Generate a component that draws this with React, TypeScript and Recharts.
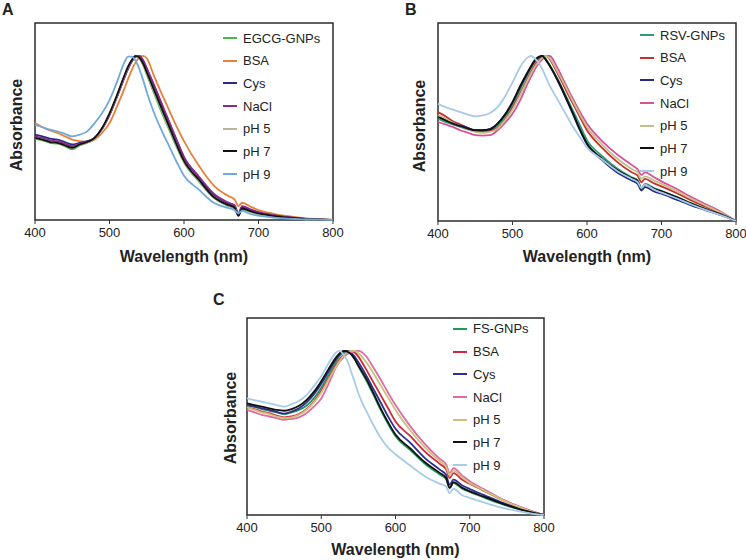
import React from 'react'
import { LineChart, Line, XAxis, YAxis, ReferenceArea, Legend } from 'recharts'

// shared wavelength grid (nm) and axis ticks
const WAVELENGTH = [400, 410, 420, 430, 440, 450, 460, 470, 480, 490, 500, 510, 520, 525, 530, 535, 540, 545, 550, 560, 570, 580, 590, 600, 620, 640, 660, 668, 673, 678, 690, 700, 720, 740, 760, 780, 800]
const X_TICKS = [400, 500, 600, 700, 800]

// Panel A - EGCG-GNPs
const A_LABELS = ['EGCG-GNPs', 'BSA', 'Cys', 'NaCl', 'pH 5', 'pH 7', 'pH 9']
const A_COLORS = ['#4cb848', '#e8803a', '#2b2a85', '#8b2a8e', '#b9b49a', '#111111', '#6fa8dc']
const A_EGCG = [0.495, 0.485, 0.47, 0.465, 0.45, 0.43, 0.455, 0.47, 0.495, 0.555, 0.645, 0.755, 0.875, 0.93, 0.975, 1.0, 0.985, 0.945, 0.885, 0.77, 0.655, 0.55, 0.445, 0.35, 0.235, 0.135, 0.085, 0.07, 0.03, 0.065, 0.048, 0.036, 0.022, 0.012, 0.006, 0.003, 0]
const A_BSA = [0.59, 0.565, 0.545, 0.53, 0.51, 0.49, 0.48, 0.475, 0.49, 0.53, 0.59, 0.69, 0.8, 0.86, 0.915, 0.96, 0.99, 1.0, 0.985, 0.875, 0.77, 0.67, 0.57, 0.48, 0.33, 0.21, 0.145, 0.125, 0.085, 0.105, 0.08, 0.06, 0.038, 0.023, 0.012, 0.005, 0]
const A_CYS = [0.52, 0.51, 0.495, 0.49, 0.475, 0.46, 0.47, 0.48, 0.5, 0.555, 0.64, 0.75, 0.87, 0.925, 0.97, 0.995, 1.0, 0.97, 0.92, 0.815, 0.705, 0.595, 0.485, 0.38, 0.26, 0.155, 0.1, 0.085, 0.035, 0.08, 0.06, 0.045, 0.028, 0.016, 0.008, 0.003, 0]
const A_NACL = [0.51, 0.5, 0.485, 0.48, 0.465, 0.45, 0.465, 0.478, 0.5, 0.555, 0.64, 0.75, 0.865, 0.92, 0.965, 0.995, 1.0, 0.975, 0.925, 0.82, 0.71, 0.6, 0.49, 0.385, 0.265, 0.16, 0.105, 0.09, 0.04, 0.085, 0.063, 0.048, 0.03, 0.017, 0.009, 0.004, 0]
const A_PH5 = [0.5, 0.49, 0.475, 0.468, 0.452, 0.437, 0.458, 0.472, 0.498, 0.557, 0.648, 0.758, 0.878, 0.932, 0.975, 1.0, 0.988, 0.95, 0.893, 0.78, 0.668, 0.56, 0.453, 0.355, 0.24, 0.138, 0.088, 0.073, 0.028, 0.068, 0.05, 0.038, 0.023, 0.013, 0.006, 0.003, 0]
const A_PH7 = [0.5, 0.49, 0.475, 0.47, 0.455, 0.44, 0.46, 0.475, 0.5, 0.56, 0.65, 0.76, 0.88, 0.935, 0.975, 1.0, 0.99, 0.955, 0.9, 0.79, 0.68, 0.57, 0.46, 0.36, 0.245, 0.14, 0.09, 0.075, 0.025, 0.07, 0.052, 0.04, 0.025, 0.014, 0.007, 0.003, 0]
const A_PH9 = [0.58, 0.565, 0.55, 0.54, 0.525, 0.51, 0.52, 0.54, 0.59, 0.65, 0.73, 0.84, 0.96, 0.995, 0.995, 0.97, 0.92, 0.855, 0.78, 0.65, 0.545, 0.45, 0.355, 0.27, 0.185, 0.105, 0.072, 0.06, 0.04, 0.055, 0.035, 0.026, 0.015, 0.008, 0.004, 0.002, 0]

// Panel B - RSV-GNPs
const B_LABELS = ['RSV-GNPs', 'BSA', 'Cys', 'NaCl', 'pH 5', 'pH 7', 'pH 9']
const B_COLORS = ['#2a9d74', '#c9302c', '#252a86', '#d9509a', '#c3bf8a', '#111111', '#a9c9ea']
const B_RSV = [0.62, 0.6, 0.585, 0.57, 0.555, 0.545, 0.545, 0.55, 0.58, 0.63, 0.7, 0.795, 0.885, 0.93, 0.965, 0.99, 1.0, 0.98, 0.945, 0.865, 0.775, 0.68, 0.585, 0.49, 0.395, 0.32, 0.265, 0.248, 0.2, 0.225, 0.2, 0.183, 0.148, 0.108, 0.072, 0.04, 0]
const B_BSA = [0.66, 0.635, 0.605, 0.585, 0.565, 0.545, 0.54, 0.545, 0.565, 0.615, 0.685, 0.77, 0.86, 0.905, 0.945, 0.975, 0.995, 1.0, 0.98, 0.9, 0.81, 0.72, 0.635, 0.55, 0.445, 0.36, 0.295, 0.275, 0.235, 0.255, 0.228, 0.21, 0.17, 0.125, 0.085, 0.045, 0]
const B_CYS = [0.635, 0.615, 0.595, 0.58, 0.565, 0.55, 0.55, 0.558, 0.59, 0.645, 0.72, 0.81, 0.895, 0.935, 0.97, 0.99, 1.0, 0.975, 0.94, 0.855, 0.76, 0.66, 0.555, 0.465, 0.37, 0.295, 0.245, 0.225, 0.185, 0.205, 0.18, 0.165, 0.13, 0.095, 0.065, 0.035, 0]
const B_NACL = [0.6, 0.585, 0.57, 0.55, 0.535, 0.52, 0.518, 0.52, 0.55, 0.595, 0.65, 0.73, 0.83, 0.875, 0.92, 0.955, 0.98, 1.0, 1.0, 0.93, 0.84, 0.75, 0.665, 0.59, 0.486, 0.405, 0.34, 0.313, 0.28, 0.295, 0.265, 0.24, 0.195, 0.145, 0.1, 0.055, 0]
const B_PH5 = [0.64, 0.62, 0.595, 0.575, 0.555, 0.54, 0.535, 0.54, 0.56, 0.61, 0.675, 0.76, 0.85, 0.895, 0.935, 0.965, 0.99, 1.0, 0.985, 0.91, 0.825, 0.735, 0.65, 0.57, 0.465, 0.38, 0.315, 0.293, 0.255, 0.27, 0.245, 0.225, 0.182, 0.135, 0.092, 0.05, 0]
const B_PH7 = [0.63, 0.61, 0.59, 0.575, 0.56, 0.55, 0.55, 0.555, 0.59, 0.645, 0.72, 0.815, 0.9, 0.94, 0.975, 0.995, 1.0, 0.975, 0.94, 0.86, 0.765, 0.665, 0.56, 0.47, 0.38, 0.31, 0.26, 0.242, 0.195, 0.22, 0.195, 0.18, 0.145, 0.105, 0.07, 0.04, 0]
const B_PH9 = [0.71, 0.69, 0.675, 0.66, 0.645, 0.634, 0.64, 0.655, 0.69, 0.755, 0.84, 0.93, 0.99, 1.0, 0.985, 0.96, 0.92, 0.87, 0.82, 0.74, 0.66, 0.58, 0.51, 0.445, 0.374, 0.305, 0.255, 0.235, 0.2, 0.22, 0.19, 0.172, 0.138, 0.1, 0.066, 0.035, 0]

// Panel C - FS-GNPs
const C_LABELS = ['FS-GNPs', 'BSA', 'Cys', 'NaCl', 'pH 5', 'pH 7', 'pH 9']
const C_COLORS = ['#1f9a5e', '#d22a3c', '#2e2f8f', '#e06aa5', '#cbc27a', '#111111', '#a8cbea']
const C_FS = [0.67, 0.66, 0.645, 0.635, 0.625, 0.615, 0.625, 0.64, 0.665, 0.71, 0.775, 0.855, 0.935, 0.97, 0.99, 1.0, 0.985, 0.95, 0.905, 0.825, 0.735, 0.64, 0.555, 0.48, 0.395, 0.31, 0.245, 0.22, 0.165, 0.195, 0.16, 0.14, 0.105, 0.072, 0.043, 0.02, 0]
const C_BSA = [0.655, 0.645, 0.63, 0.62, 0.605, 0.595, 0.6, 0.615, 0.645, 0.69, 0.755, 0.835, 0.915, 0.95, 0.975, 0.99, 1.0, 0.99, 0.965, 0.89, 0.81, 0.73, 0.65, 0.57, 0.48, 0.385, 0.31, 0.28, 0.225, 0.255, 0.215, 0.19, 0.145, 0.1, 0.062, 0.028, 0]
const C_CYS = [0.67, 0.66, 0.65, 0.64, 0.628, 0.618, 0.63, 0.65, 0.685, 0.735, 0.8, 0.875, 0.95, 0.98, 0.995, 1.0, 0.99, 0.965, 0.93, 0.855, 0.77, 0.685, 0.6, 0.525, 0.44, 0.345, 0.275, 0.245, 0.185, 0.215, 0.18, 0.158, 0.12, 0.082, 0.05, 0.022, 0]
const C_NACL = [0.64, 0.625, 0.61, 0.6, 0.59, 0.58, 0.585, 0.595, 0.62, 0.66, 0.71, 0.8, 0.9, 0.935, 0.96, 0.98, 0.99, 1.0, 1.0, 0.97, 0.9, 0.825, 0.745, 0.67, 0.54, 0.43, 0.34, 0.31, 0.256, 0.285, 0.24, 0.205, 0.155, 0.105, 0.063, 0.028, 0]
const C_PH5 = [0.655, 0.64, 0.625, 0.615, 0.6, 0.59, 0.595, 0.61, 0.64, 0.685, 0.745, 0.825, 0.905, 0.94, 0.97, 0.99, 1.0, 1.0, 0.985, 0.935, 0.865, 0.79, 0.715, 0.64, 0.515, 0.41, 0.325, 0.295, 0.24, 0.27, 0.228, 0.195, 0.148, 0.1, 0.06, 0.026, 0]
const C_PH7 = [0.68, 0.67, 0.66, 0.65, 0.64, 0.635, 0.645, 0.665, 0.7, 0.75, 0.815, 0.89, 0.96, 0.985, 1.0, 0.995, 0.98, 0.95, 0.91, 0.835, 0.745, 0.65, 0.565, 0.49, 0.405, 0.32, 0.255, 0.226, 0.165, 0.2, 0.165, 0.144, 0.11, 0.075, 0.045, 0.02, 0]
const C_PH9 = [0.71, 0.7, 0.69, 0.68, 0.67, 0.66, 0.675, 0.695, 0.73, 0.785, 0.845, 0.925, 0.99, 1.0, 0.975, 0.94, 0.876, 0.81, 0.74, 0.64, 0.55, 0.47, 0.41, 0.37, 0.3, 0.235, 0.19, 0.175, 0.134, 0.16, 0.12, 0.104, 0.075, 0.048, 0.028, 0.012, 0]

const FONT = '"Liberation Sans", Arial, sans-serif'

interface PanelProps {
  letter: string
  labels: string[]
  colors: string[]
  series: number[][]
  left: number
  top: number
  width: number
  height: number
  margin: { top: number; right: number; left: number; bottom: number }
  titleOffset: number
  legendPos: { left: number; top: number }
  letterPos: { left: number; top: number }
  yTitlePos: { x: number; y: number }
}

function buildRows(series: number[][]) {
  return WAVELENGTH.map((w, i) => {
    const row: Record<string, number> = { w }
    series.forEach((s, k) => {
      row[`s${k}`] = s[i]
    })
    return row
  })
}

function PanelLegend({ labels, colors }: { labels: string[]; colors: string[] }) {
  return (
    <div style={{ fontFamily: FONT }}>
      {labels.map((l, i) => (
        <div key={l} style={{ display: 'flex', alignItems: 'center', height: 22.7 }}>
          <span style={{ display: 'inline-block', width: 14, height: 2, background: colors[i], marginRight: 6 }} />
          <span style={{ fontSize: 13, color: '#222', lineHeight: '15px' }}>{l}</span>
        </div>
      ))}
    </div>
  )
}

function Panel(p: PanelProps) {
  const data = buildRows(p.series)
  return (
    <>
      <div style={{ position: 'absolute', left: p.left, top: p.top }}>
        <LineChart width={p.width} height={p.height} data={data} margin={p.margin}>
          <XAxis
            dataKey="w"
            type="number"
            domain={[400, 800]}
            ticks={X_TICKS}
            axisLine={false}
            tickSize={4}
            tickMargin={4}
            stroke="#333"
            height={45}
            tick={{ fontSize: 13, fill: '#222', fontFamily: FONT }}
            label={{
              value: 'Wavelength (nm)',
              position: 'insideBottom',
              offset: p.titleOffset,
              style: { fontSize: 16, fontWeight: 'bold', fill: '#222', fontFamily: FONT },
            }}
          />
          <YAxis hide type="number" domain={[0, 1.2]} />
          <ReferenceArea x1={400} x2={800} y1={0} y2={1.2} fill="none" stroke="#2b2b2b" strokeWidth={1.5} />
          {p.labels.map((name, k) => (
            <Line
              key={name}
              dataKey={`s${k}`}
              name={name}
              type="monotone"
              stroke={p.colors[k]}
              strokeWidth={1.8}
              dot={false}
              isAnimationActive={false}
            />
          ))}
          <Legend
            layout="vertical"
            align="center"
            verticalAlign="middle"
            wrapperStyle={{ left: p.legendPos.left, top: p.legendPos.top, width: 'auto' }}
            content={() => <PanelLegend labels={p.labels} colors={p.colors} />}
          />
        </LineChart>
      </div>
      <div
        style={{
          position: 'absolute',
          left: p.letterPos.left,
          top: p.letterPos.top,
          fontFamily: FONT,
          fontWeight: 'bold',
          fontSize: 16,
          lineHeight: '16px',
          color: '#222',
        }}
      >
        {p.letter}
      </div>
      <div
        style={{
          position: 'absolute',
          left: p.yTitlePos.x,
          top: p.yTitlePos.y,
          transform: 'translate(-50%, -50%) rotate(-90deg)',
          fontFamily: FONT,
          fontWeight: 'bold',
          fontSize: 16,
          lineHeight: '16px',
          color: '#222',
          whiteSpace: 'nowrap',
        }}
      >
        Absorbance
      </div>
    </>
  )
}

export default function App() {
  return (
    <div style={{ position: 'absolute', left: 0, top: 0, width: 746, height: 560, background: '#fff', overflow: 'hidden' }}>
      <Panel
        letter="A"
        labels={A_LABELS}
        colors={A_COLORS}
        series={[A_EGCG, A_BSA, A_CYS, A_NACL, A_PH5, A_PH7, A_PH9]}
        left={0}
        top={0}
        width={345}
        height={270}
        margin={{ top: 23, right: 12, left: 35, bottom: 5 }}
        titleOffset={3}
        legendPos={{ left: 223, top: 26.7 }}
        letterPos={{ left: 2, top: 1.5 }}
        yTitlePos={{ x: 17, y: 125 }}
      />
      <Panel
        letter="B"
        labels={B_LABELS}
        colors={B_COLORS}
        series={[B_RSV, B_BSA, B_CYS, B_NACL, B_PH5, B_PH7, B_PH9]}
        left={373}
        top={0}
        width={373}
        height={270}
        margin={{ top: 23, right: 10, left: 65, bottom: 4 }}
        titleOffset={4}
        legendPos={{ left: 267, top: 23.7 }}
        letterPos={{ left: 405, top: 1.5 }}
        yTitlePos={{ x: 420, y: 126 }}
      />
      <Panel
        letter="C"
        labels={C_LABELS}
        colors={C_COLORS}
        series={[C_FS, C_BSA, C_CYS, C_NACL, C_PH5, C_PH7, C_PH9]}
        left={180}
        top={280}
        width={380}
        height={280}
        margin={{ top: 38, right: 16, left: 67, bottom: 0 }}
        titleOffset={5}
        legendPos={{ left: 273, top: 37.6 }}
        letterPos={{ left: 213, top: 291.5 }}
        yTitlePos={{ x: 231, y: 418 }}
      />
    </div>
  )
}
